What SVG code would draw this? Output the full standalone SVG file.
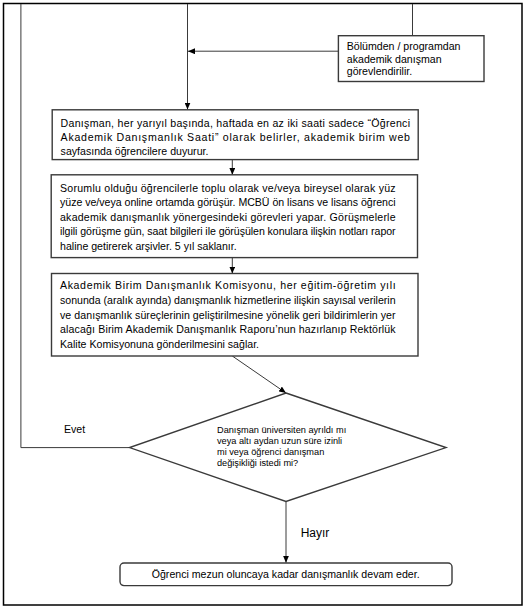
<svg xmlns="http://www.w3.org/2000/svg" width="528" height="609" viewBox="0 0 528 609">
<style>
  .box { fill: #ffffff; stroke: #3a3a3a; stroke-width: 1.4; }
  .ln { fill: none; stroke: #3a3a3a; stroke-width: 1; }
  .t { font-family: "Liberation Sans", Arial, sans-serif; font-size: 10.6px; fill: #000; }
  .ts { font-family: "Liberation Sans", Arial, sans-serif; font-size: 9.2px; fill: #000; }
  .tl { font-family: "Liberation Sans", Arial, sans-serif; font-size: 12px; fill: #000; }
</style>
<defs>
  <marker id="arr" viewBox="0 0 7 6" refX="7" refY="3" markerWidth="7" markerHeight="6" markerUnits="userSpaceOnUse" orient="auto">
    <path d="M0,0 L7,3 L0,6 z" fill="#000"/>
  </marker>
</defs>
<rect x="0" y="0" width="528" height="609" fill="#ffffff"/>
<rect x="3.5" y="3.5" width="518.5" height="601.5" fill="none" stroke="#000" stroke-width="1.5"/>

<g id="connectors">
  <line class="ln" x1="187.5" y1="4" x2="187.5" y2="109.5" marker-end="url(#arr)"/>
  <line class="ln" x1="412.5" y1="4" x2="412.5" y2="35.7"/>
  <line class="ln" x1="338.4" y1="51.2" x2="188" y2="51.2" marker-end="url(#arr)"/>
  <line class="ln" x1="232.3" y1="159.6" x2="232.3" y2="174.8" marker-end="url(#arr)"/>
  <line class="ln" x1="232.3" y1="257.6" x2="232.3" y2="273.5" marker-end="url(#arr)"/>
  <line class="ln" x1="232.3" y1="356" x2="286" y2="393" marker-end="url(#arr)"/>
  <polyline class="ln" points="129.6,447.6 20.9,447.6 20.9,4"/>
  <line class="ln" x1="286" y1="501.5" x2="286" y2="562.7" marker-end="url(#arr)"/>
  <text class="t" x="64" y="433">Evet</text>
  <text class="tl" x="300.7" y="537">Hayır</text>
</g>

<g id="node-gorevlendirme">
  <rect class="box" x="338.4" y="35.7" width="145.6" height="45.8"/>
  <text class="t" x="346.8" y="50.3">Bölümden / programdan</text>
  <text class="t" x="346.8" y="62.8">akademik danışman</text>
  <text class="t" x="346.8" y="75.2">görevlendirilir.</text>
</g>

<g id="node-saat">
  <rect class="box" x="52.2" y="109.8" width="366" height="49.8"/>
  <text class="t" x="60.6" y="126.5" textLength="349.4" lengthAdjust="spacing">Danışman, her yarıyıl başında, haftada en az iki saati sadece “Öğrenci</text>
  <text class="t" x="60.6" y="140.8" textLength="349.4" lengthAdjust="spacing">Akademik Danışmanlık Saati” olarak belirler, akademik birim web</text>
  <text class="t" x="60.6" y="155">sayfasında öğrencilere duyurur.</text>
</g>

<g id="node-gorusme">
  <rect class="box" x="51.2" y="174.8" width="366.3" height="82.8"/>
  <text class="t" x="60" y="191.5" textLength="335.6" lengthAdjust="spacing">Sorumlu olduğu öğrencilerle toplu olarak ve/veya bireysel olarak yüz</text>
  <text class="t" x="60" y="206.1" textLength="335.6" lengthAdjust="spacing">yüze ve/veya online ortamda görüşür. MCBÜ ön lisans ve lisans öğrenci</text>
  <text class="t" x="60" y="220.7" textLength="335.6" lengthAdjust="spacing">akademik danışmanlık yönergesindeki görevleri yapar. Görüşmelerle</text>
  <text class="t" x="60" y="235.3" textLength="335.6" lengthAdjust="spacing">ilgili görüşme gün, saat bilgileri ile görüşülen konulara ilişkin notları rapor</text>
  <text class="t" x="60" y="249.9">haline getirerek arşivler. 5 yıl saklanır.</text>
</g>

<g id="node-komisyon">
  <rect class="box" x="51.5" y="273.5" width="366.5" height="82.5"/>
  <text class="t" x="60" y="289" textLength="335.6" lengthAdjust="spacing">Akademik Birim Danışmanlık Komisyonu, her eğitim-öğretim yılı</text>
  <text class="t" x="60" y="303.75" textLength="335.6" lengthAdjust="spacing">sonunda (aralık ayında) danışmanlık hizmetlerine ilişkin sayısal verilerin</text>
  <text class="t" x="60" y="318.5" textLength="335.6" lengthAdjust="spacing">ve danışmanlık süreçlerinin geliştirilmesine yönelik geri bildirimlerin yer</text>
  <text class="t" x="60" y="333.25" textLength="335.6" lengthAdjust="spacing">alacağı Birim Akademik Danışmanlık Raporu’nun hazırlanıp Rektörlük</text>
  <text class="t" x="60" y="348">Kalite Komisyonuna gönderilmesini sağlar.</text>
</g>

<g id="node-karar">
  <polygon class="box" stroke-width="1" points="286,393 446,447.6 286,501.5 129.6,447.6"/>
  <text class="ts" x="217" y="432.5">Danışman üniversiten ayrıldı mı</text>
  <text class="ts" x="217" y="443.8">veya altı aydan uzun süre izinli</text>
  <text class="ts" x="217" y="455.1">mi veya öğrenci danışman</text>
  <text class="ts" x="217" y="466.4">değişikliği istedi mi?</text>
</g>

<g id="node-devam">
  <rect class="box" x="120" y="563" width="332" height="22.6" rx="4" ry="4"/>
  <text class="t" x="285.7" y="578" text-anchor="middle">Öğrenci mezun oluncaya kadar danışmanlık devam eder.</text>
</g>
</svg>
